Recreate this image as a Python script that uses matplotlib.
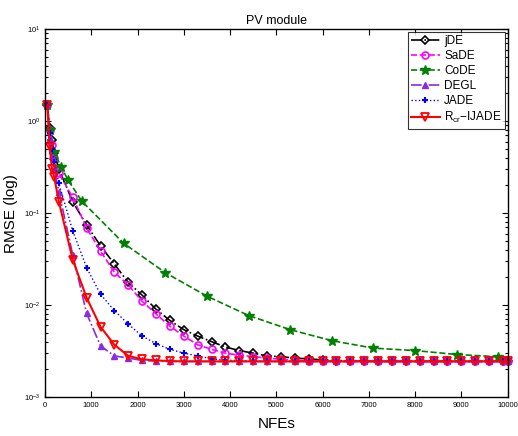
import matplotlib
matplotlib.use("Agg")
import matplotlib.pyplot as plt
from matplotlib.ticker import LogLocator, FixedLocator

plt.rcParams['font.family'] = ['Liberation Sans', 'DejaVu Sans']
plt.rcParams['mathtext.fontset'] = 'custom'
plt.rcParams['mathtext.rm'] = 'Liberation Sans'
plt.rcParams['mathtext.it'] = 'Liberation Sans'

# NFE sample points for most algorithms
nfe = [50, 100, 150, 200, 300, 600, 900, 1200, 1500, 1800, 2100, 2400, 2700,
       3000, 3300, 3600, 3900, 4200, 4500, 4800, 5100, 5400, 5700, 6000, 6300,
       6600, 6900, 7200, 7500, 7800, 8100, 8400, 8700, 9000, 9300, 9600, 9900,
       10000]

jde = [1.5, 0.85, 0.62, 0.45, 0.30, 0.133, 0.074, 0.0441, 0.0279, 0.0176,
       0.0128, 0.0090, 0.0068, 0.0054, 0.0046, 0.0040, 0.0035, 0.0032, 0.0030,
       0.0028, 0.00275, 0.00265, 0.0026, 0.00253, 0.00249, 0.00246, 0.00245,
       0.00244, 0.00244, 0.00244, 0.00244, 0.00244, 0.00244, 0.00244, 0.00244,
       0.00244, 0.00244, 0.00244]

sade = [1.5, 0.8, 0.55, 0.40, 0.27, 0.148, 0.069, 0.0386, 0.0227, 0.0165,
        0.0110, 0.0080, 0.0059, 0.0046, 0.0037, 0.0033, 0.0030, 0.00285,
        0.00275, 0.00265, 0.00258, 0.00252, 0.00248, 0.00246, 0.00245, 0.00244,
        0.00244, 0.00244, 0.00244, 0.00244, 0.00244, 0.00244, 0.00244, 0.00244,
        0.00244, 0.00244, 0.00244, 0.00244]

degl = [1.55, 0.65, 0.42, 0.30, 0.17, 0.035, 0.0081, 0.0036, 0.0028, 0.00265,
        0.0025, 0.00246, 0.00244, 0.00244, 0.00244, 0.00244, 0.00244, 0.00244,
        0.00244, 0.00244, 0.00244, 0.00244, 0.00244, 0.00244, 0.00244, 0.00244,
        0.00244, 0.00244, 0.00244, 0.00244, 0.00244, 0.00244, 0.00244, 0.00244,
        0.00244, 0.00244, 0.00244, 0.00244]

jade = [1.5, 0.75, 0.50, 0.36, 0.21, 0.064, 0.0255, 0.0131, 0.0087, 0.0062,
        0.0046, 0.0038, 0.0033, 0.0030, 0.0028, 0.0026, 0.00252, 0.00248,
        0.00245, 0.00244, 0.00244, 0.00244, 0.00244, 0.00244, 0.00244, 0.00244,
        0.00244, 0.00244, 0.00244, 0.00244, 0.00244, 0.00244, 0.00244, 0.00244,
        0.00244, 0.00244, 0.00244, 0.00244]

ijade = [1.5, 0.53, 0.30, 0.244, 0.133, 0.031, 0.012, 0.0058, 0.0037, 0.0028,
         0.00257, 0.0025, 0.00246, 0.00244, 0.00244, 0.00244, 0.00244, 0.00244,
         0.00244, 0.00244, 0.00244, 0.00244, 0.00244, 0.00244, 0.00244, 0.00244,
         0.00244, 0.00244, 0.00244, 0.00244, 0.00244, 0.00244, 0.00244, 0.00244,
         0.00244, 0.00244, 0.00244, 0.00244]

# CoDE is sampled at different NFEs
nfe_code = [50, 100, 200, 350, 500, 800, 1700, 2600, 3500, 4400, 5300, 6200,
            7100, 8000, 8900, 9800, 10000]
code = [1.5, 0.8, 0.46, 0.318, 0.228, 0.134, 0.047, 0.0225, 0.0125, 0.0077,
        0.0054, 0.0041, 0.0034, 0.0032, 0.0029, 0.00274, 0.0027]

labels = ['jDE', 'SaDE', 'CoDE', 'DEGL', 'JADE', r'R$_{\mathrm{cr}}$$-$IJADE']
xticks = [0, 1000, 2000, 3000, 4000, 5000, 6000, 7000, 8000, 9000, 10000]

fig = plt.figure(figsize=(5.18, 4.36), dpi=100)
ax = fig.add_axes([0.0869, 0.0894, 0.8931, 0.8436])

ms = 5
ax.plot(nfe, jde, color='black', ls='-.', lw=1.2, marker='D', ms=4.2,
        mfc='none', mec='black', mew=1.2, label=labels[0], clip_on=False)
ax.plot(nfe, sade, color='#ff00ff', ls='--', lw=1.2, marker='o', ms=ms,
        mfc='none', mec='#ff00ff', mew=1.2, label=labels[1], clip_on=False)
ax.plot(nfe_code, code, color='#008000', ls='--', lw=1.2, marker='*', ms=7,
        mfc='#008000', mec='#008000', label=labels[2],
        markevery=list(range(len(nfe_code) - 1)), clip_on=False)
ax.plot(nfe, degl, color='#8a2be2', ls='-.', lw=1.2, marker='^', ms=ms,
        mfc='#8a2be2', mec='#8a2be2', label=labels[3], clip_on=False)
ax.plot(nfe, jade, color='#0000ff', ls=':', lw=1.0, marker='+', ms=ms,
        mew=1.5, label=labels[4], clip_on=False)
ax.plot(nfe, ijade, color='#ff0000', ls='-', lw=1.5, marker='v', ms=6,
        mfc='none', mec='#ff0000', mew=1.3, label=labels[5], clip_on=False)

ax.set_yscale('log')
ax.set_xlim(0, 10000)
ax.set_ylim(1e-3, 1e1)
ax.xaxis.set_major_locator(FixedLocator(xticks))
ax.set_xticklabels([str(t) for t in xticks])
ax.yaxis.set_major_locator(LogLocator(base=10, numticks=10))
ax.yaxis.set_minor_locator(LogLocator(base=10, subs=range(2, 10), numticks=20))
ax.tick_params(which='both', direction='in', top=True, right=True,
               labelsize=5.5, width=0.8)
ax.tick_params(which='major', length=4)
ax.tick_params(which='minor', length=2)
for s in ax.spines.values():
    s.set_linewidth(1.0)

ax.set_title('PV module', fontsize=9, pad=4)
ax.set_xlabel('NFEs', fontsize=11, labelpad=6)
ax.set_ylabel('RMSE (log)', fontsize=11, labelpad=4)

leg = ax.legend(loc='upper right', fontsize=8.5, frameon=True, fancybox=False,
                edgecolor='black', borderpad=0.3, labelspacing=0.25,
                handlelength=2.4, handletextpad=0.4, borderaxespad=0.2)
leg.get_frame().set_linewidth(0.8)

fig.savefig('out.png', dpi=100)
